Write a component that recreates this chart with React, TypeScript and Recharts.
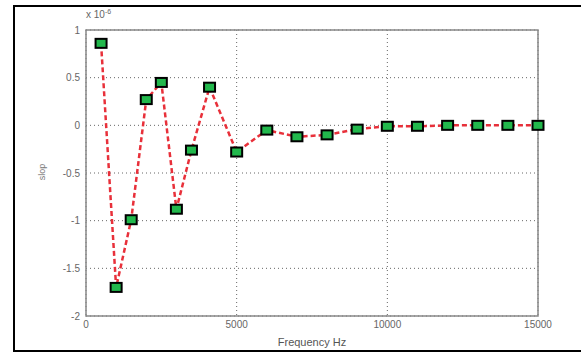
import React from 'react';
import { ComposedChart, Line, XAxis, YAxis, CartesianGrid, ReferenceArea } from 'recharts';

// values are in units of 1e-6
const freqs = [500, 1000, 1500, 2000, 2500, 3000, 3500, 4100, 5000, 6000, 7000, 8000, 9000, 10000, 11000, 12000, 13000, 14000, 15000];
const slopes = [0.86, -1.7, -0.99, 0.27, 0.45, -0.88, -0.26, 0.4, -0.28, -0.05, -0.12, -0.1, -0.04, -0.01, -0.01, 0, 0, 0, 0];
const xTicks = [0, 5000, 10000, 15000];
const yTicks = [-2, -1.5, -1, -0.5, 0, 0.5, 1];

const data = freqs.map((f, i) => ({ freq: f, slop: slopes[i] }));

const font = '"Liberation Sans", Arial, sans-serif';

const SquareDot = (props: any) => {
  const { cx, cy } = props;
  if (cx == null || cy == null) return null;
  return <rect x={cx - 5.5} y={cy - 4.5} width={11} height={9} fill="#22b84c" stroke="#000" strokeWidth={2} />;
};

const App = () => {
  return (
    <div style={{ position: 'fixed', left: 0, top: 0, width: 581, height: 352, overflow: 'hidden', background: '#fff', fontFamily: font }}>
      {/* outer frame */}
      <div style={{ position: 'absolute', left: 13, top: 5, width: 600, height: 343, border: '2px solid #000', boxSizing: 'content-box' }} />
      <ComposedChart width={581} height={352} data={data} margin={{ top: 30, right: 43, bottom: 0, left: 0 }} style={{ position: 'absolute', left: 0, top: 0 }}>
        <CartesianGrid stroke="#666" strokeDasharray="1 3" horizontalValues={yTicks} verticalValues={xTicks} />
        <ReferenceArea x1={0} x2={15000} y1={-2} y2={1} fill="none" stroke="#888" strokeWidth={1.5} ifOverflow="visible" />
        <XAxis
          dataKey="freq"
          type="number"
          domain={[0, 15000]}
          ticks={xTicks}
          height={36}
          axisLine={false}
          tickLine={false}
          tickSize={3}
          tickMargin={2}
          tick={{ fill: '#666', fontSize: 10, fontFamily: font }}
          label={{ value: 'Frequency Hz', position: 'insideBottom', offset: 6, fill: '#555', fontSize: 11, fontFamily: font }}
        />
        <YAxis
          type="number"
          domain={[-2, 1]}
          ticks={yTicks}
          width={86}
          axisLine={false}
          tickLine={false}
          tickSize={4}
          tickMargin={2}
          tick={{ fill: '#666', fontSize: 10, fontFamily: font }}
        />
        <Line
          dataKey="slop"
          type="linear"
          stroke="#e8303a"
          strokeWidth={2.5}
          strokeDasharray="5 3"
          dot={<SquareDot />}
          activeDot={false}
          isAnimationActive={false}
        />
      </ComposedChart>
      <div style={{ position: 'absolute', left: 86, top: 8, fontSize: 10, color: '#666' }}>
        x 10<sup style={{ fontSize: 7 }}>-6</sup>
      </div>
      <div style={{ position: 'absolute', left: 42, top: 172, transform: 'translate(-50%, -50%) rotate(-90deg)', fontSize: 9, color: '#777' }}>
        slop
      </div>
    </div>
  );
};

export default App;
